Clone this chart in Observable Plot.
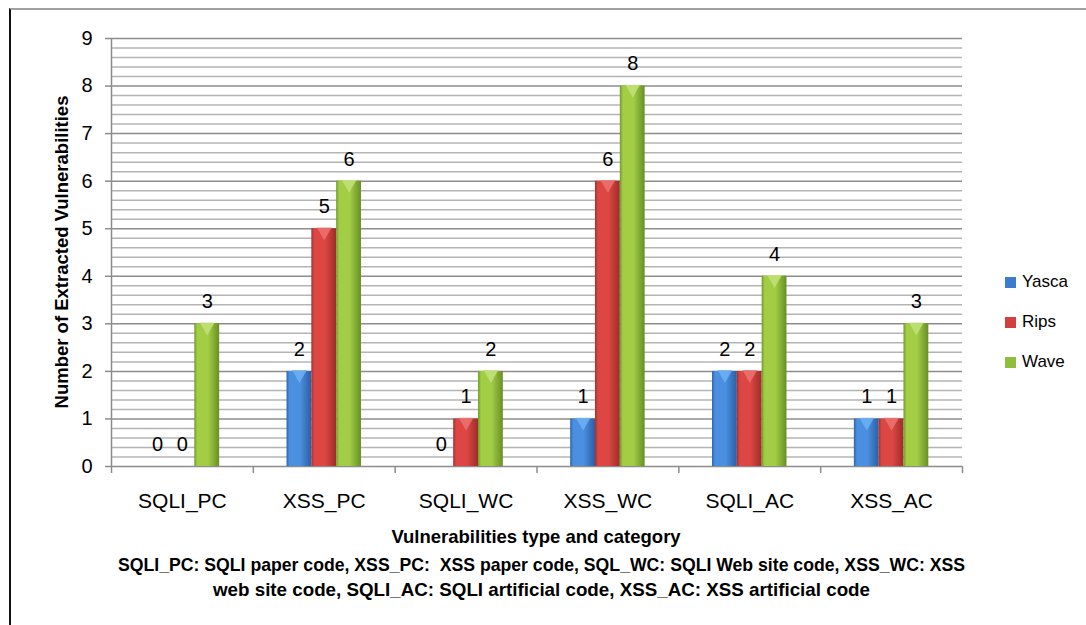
<!DOCTYPE html>
<html>
<head>
<meta charset="utf-8">
<script src="https://cdn.jsdelivr.net/npm/d3@7"></script>
<script src="https://cdn.jsdelivr.net/npm/@observablehq/plot@0.6"></script>
<style>
  html, body { margin: 0; padding: 0; background: #fff; }
  #wrap { position: relative; width: 1086px; height: 625px; overflow: hidden; font-family: "Liberation Sans", Arial, sans-serif; }
  #frame { position: absolute; left: 9px; top: 8px; width: 1100px; height: 640px; border-left: 2px solid #111; border-top: 2px solid #a0a0a0; }
  #chart { position: absolute; left: 0; top: 0; }
  .ytitle { position: absolute; left: 62px; top: 252px; transform: translate(-50%, -50%) rotate(-90deg); font-weight: bold; font-size: 18.5px; white-space: nowrap; color: #000; }
  .xtitle { position: absolute; left: 536px; top: 537px; transform: translate(-50%, -50%); font-weight: bold; font-size: 18.5px; white-space: nowrap; }
  .cap { position: absolute; font-weight: bold; font-size: 18.5px; white-space: nowrap; transform-origin: 0 50%; }
  #legend { position: absolute; left: 1005px; top: 262px; font-size: 17px; }
  #legend .item { display: flex; align-items: center; height: 40px; }
  #legend .sw { width: 11px; height: 11px; margin-right: 6px; }
</style>
</head>
<body>
<div id="wrap">
  <div id="frame"></div>
  <div id="chart"></div>
  <div class="ytitle">Number of Extracted Vulnerabilities</div>
  <div class="xtitle">Vulnerabilities type and category</div>
  <div class="cap" id="cap1" data-left="118" data-width="847" data-top="565">SQLI_PC: SQLI paper code, XSS_PC:&nbsp; XSS paper code, SQL_WC: SQLI Web site code, XSS_WC: XSS</div>
  <div class="cap" id="cap2" data-left="213" data-width="657" data-top="590">web site code, SQLI_AC: SQLI artificial code, XSS_AC: XSS artificial code</div>
  <div id="legend"></div>
</div>
<script>
const categories = ["SQLI_PC", "XSS_PC", "SQLI_WC", "XSS_WC", "SQLI_AC", "XSS_AC"];
const series = ["Yasca", "Rips", "Wave"];
const yasca = [0, 2, 0, 1, 2, 1];
const rips  = [0, 5, 1, 6, 2, 1];
const wave  = [3, 6, 2, 8, 4, 3];
const yTicks = [0, 1, 2, 3, 4, 5, 6, 7, 8, 9];

const colors = {
  Yasca: ["#2c64ac", "#4a8fe0", "#2a5fa3"],
  Rips:  ["#a52f2c", "#dc4743", "#9e2c29"],
  Wave:  ["#6e9a29", "#a2cd45", "#688f25"]
};
const capColors = {Yasca: "#6fb0f2", Rips: "#ec7370", Wave: "#c2e27a"};
const legendColors = {Yasca: "#3b7ccc", Rips: "#d0403c", Wave: "#8fbe3c"};

const valuesBySeries = {Yasca: yasca, Rips: rips, Wave: wave};
const barW = 0.175; // bar width as fraction of a category band
const data = [];
categories.forEach((c, i) => {
  series.forEach((s, j) => {
    const x1 = i + 0.5 + (j - 1.5) * barW;
    data.push({category: c, series: s, value: valuesBySeries[s][i], x1, x2: x1 + barW, xm: x1 + barW / 2});
  });
});

const minorTicks = d3.range(0, 9.0001, 0.2).filter(v => Math.abs(v - Math.round(v)) > 1e-6);

const defs = () => {
  const svg = d3.create("svg:g");
  const d = svg.append("defs");
  series.forEach(s => {
    const g = d.append("linearGradient").attr("id", "g-" + s).attr("x1", "0").attr("x2", "1").attr("y1", "0").attr("y2", "0");
    const [a, b, c] = colors[s];
    g.append("stop").attr("offset", "0").attr("stop-color", a);
    g.append("stop").attr("offset", "0.12").attr("stop-color", b);
    g.append("stop").attr("offset", "0.55").attr("stop-color", b);
    g.append("stop").attr("offset", "1").attr("stop-color", c);
  });
  return svg.node();
};

const plot = Plot.plot({
  width: 1086,
  height: 625,
  marginLeft: 111,
  marginRight: 124,
  marginTop: 38,
  marginBottom: 159,
  style: {fontFamily: '"Liberation Sans", Arial, sans-serif', fontSize: "20px", color: "#000", background: "transparent"},
  x: {domain: [0, categories.length], axis: null},
  y: {domain: [0, 9], axis: null},
  marks: [
    defs,
    Plot.ruleY(minorTicks, {stroke: "#b4b4b4", strokeWidth: 1.5}),
    Plot.ruleY(yTicks, {stroke: "#8c8c8c", strokeWidth: 1.5}),
    Plot.axisY({ticks: yTicks, tickSize: 6, tickPadding: 13, stroke: "#8c8c8c", strokeWidth: 1.5, fontSize: 20, label: null}),
    Plot.ruleX([0], {stroke: "#8c8c8c", strokeWidth: 1.5}),
    Plot.axisX({ticks: d3.range(0, categories.length + 1), tickFormat: () => "", tickSize: 7, stroke: "#8c8c8c", strokeWidth: 1.5, label: null}),
    Plot.axisX({ticks: categories.map((c, i) => i + 0.5), tickFormat: v => categories[Math.floor(v)], tickSize: 0, tickPadding: 27, fontSize: 21, label: null}),
    Plot.rect(data, {x1: "x1", x2: "x2", y1: 0, y2: "value", fill: d => `url(#g-${d.series})`}),
    Plot.dot(data.filter(d => d.value > 0), {x: "xm", y: "value", symbol: "triangle", rotate: 180, r: 5.5, dy: 3, fill: d => capColors[d.series], fillOpacity: 0.85, stroke: null}),
    Plot.text(data, {x: "xm", y: "value", text: d => String(d.value), dy: -22, fontSize: 20, fill: "#000"})
  ]
});
document.getElementById("chart").appendChild(plot);

const legend = document.getElementById("legend");
series.forEach(s => {
  const it = document.createElement("div");
  it.className = "item";
  const sw = document.createElement("div");
  sw.className = "sw";
  sw.style.background = legendColors[s];
  const t = document.createElement("span");
  t.textContent = s;
  it.appendChild(sw); it.appendChild(t);
  legend.appendChild(it);
});

// fit caption lines to their measured extent in the reference
document.querySelectorAll(".cap").forEach(el => {
  const w = el.getBoundingClientRect().width;
  const target = +el.dataset.width;
  el.style.left = el.dataset.left + "px";
  el.style.top = (+el.dataset.top) + "px";
  el.style.transform = `translateY(-50%) scaleX(${target / w})`;
});
</script>
</body>
</html>
